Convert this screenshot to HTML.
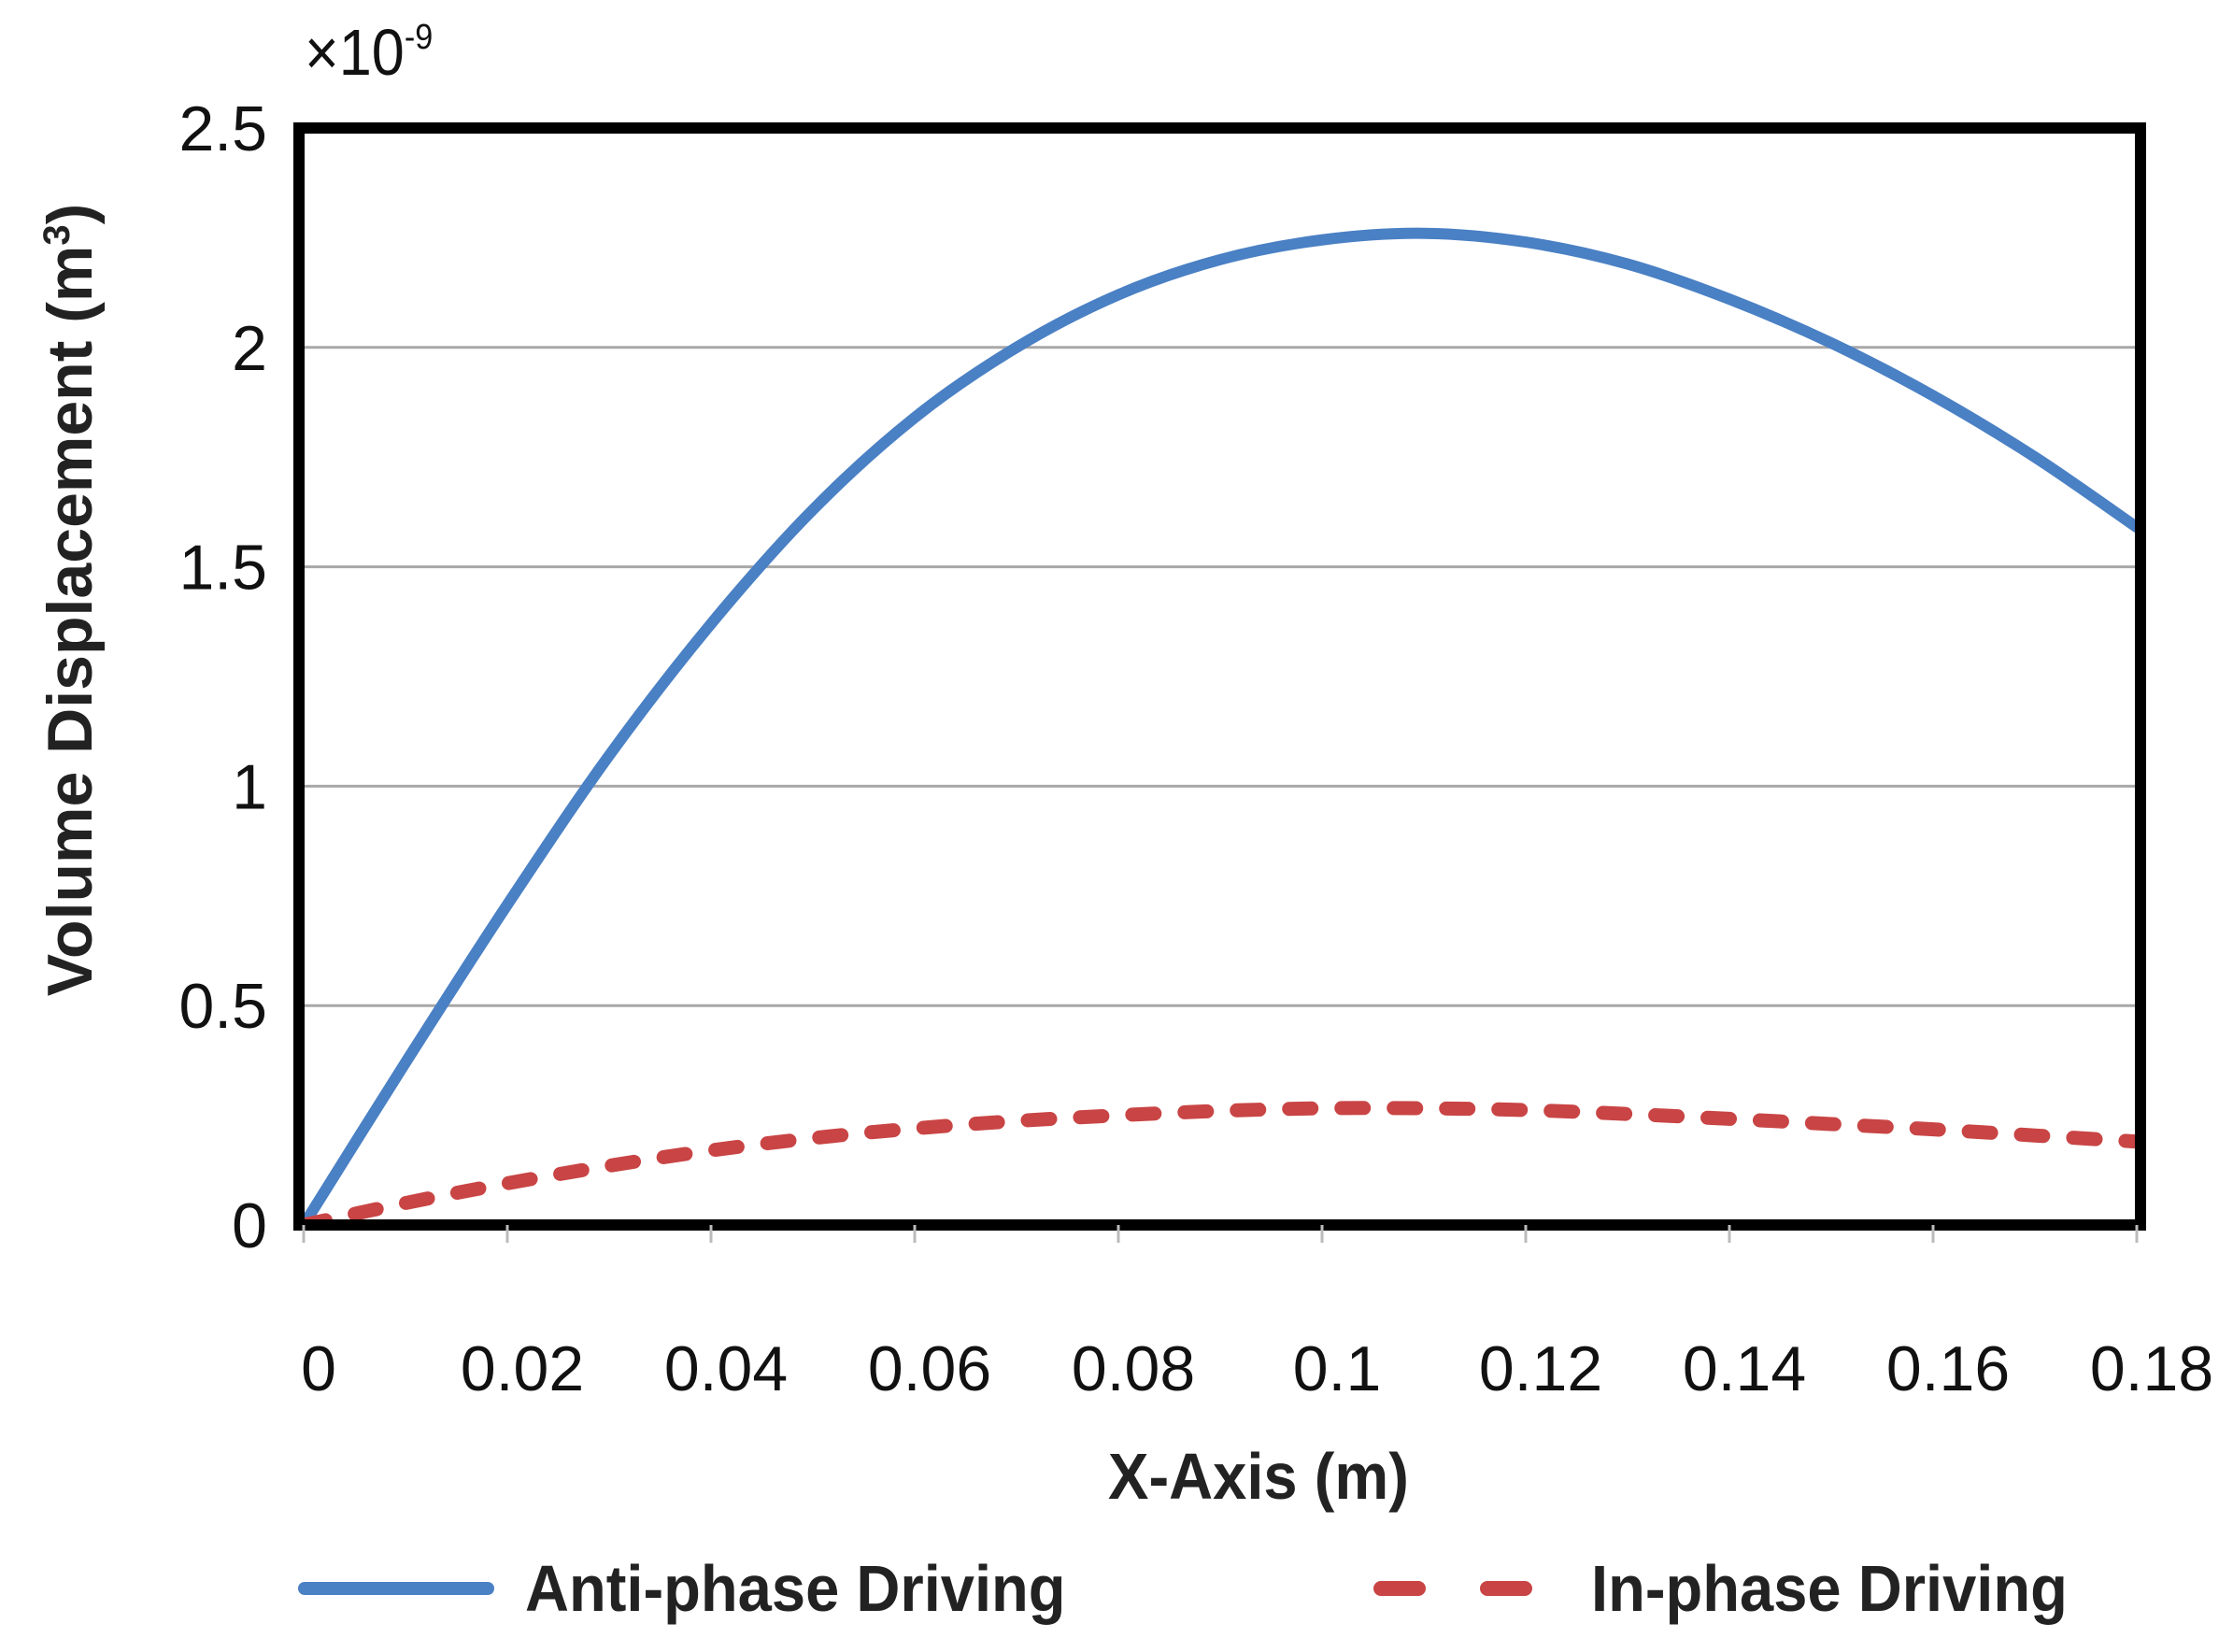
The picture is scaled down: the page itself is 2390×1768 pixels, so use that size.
<!DOCTYPE html>
<html><head><meta charset="utf-8"><style>
html,body{margin:0;padding:0;background:#fff;}
svg{display:block;font-family:"Liberation Sans",sans-serif;}
</style></head><body>
<svg id="chart" width="2390" height="1768" viewBox="0 0 2390 1768">
<defs><clipPath id="plotclip"><rect x="320" y="137" width="1971" height="1174"/></clipPath></defs>
<g id="grid"></g>
<g id="series" clip-path="url(#plotclip)"></g>
<rect x="320" y="137" width="1971" height="1174" fill="none" stroke="#000" stroke-width="12"/>
<g id="xticks"></g>
<g id="yticks"></g>
<text x="326" y="80" font-size="70" fill="#111" transform="translate(326 80) scale(0.9 1) translate(-326 -80)">×10<tspan dy="-28" font-size="38">-9</tspan></text>
<text x="1347" y="1604" font-size="70" font-weight="bold" fill="#222" text-anchor="middle" transform="translate(1347 1604) scale(0.93 1) translate(-1347 -1604)">X-Axis (m)</text>
<text transform="translate(98 642) rotate(-90)" font-size="68" font-weight="bold" fill="#222" text-anchor="middle">Volume Displacement (m<tspan dy="-24" font-size="40">3</tspan><tspan dy="24">)</tspan></text>
<g>
<line x1="326" y1="1700" x2="522" y2="1700" stroke="#4a80c4" stroke-width="14" stroke-linecap="round"/>
<text x="562" y="1724" font-size="70" font-weight="bold" fill="#222" transform="translate(562 1724) scale(0.93 1) translate(-562 -1724)">Anti-phase Driving</text>
<line x1="1478" y1="1700" x2="1652" y2="1700" stroke="#c94444" stroke-width="16" stroke-linecap="round" stroke-dasharray="40 74"/>
<text x="1703" y="1724" font-size="70" font-weight="bold" fill="#222" transform="translate(1703 1724) scale(0.93 1) translate(-1703 -1724)">In-phase Driving</text>
</g>
</svg>
<script>
const xValues=[0,0.01,0.02,0.03,0.04,0.05,0.06,0.07,0.08,0.09,0.10,0.11,0.12,0.13,0.14,0.15,0.16,0.17,0.18];
const antiPhase=[0,0.37,0.73,1.07,1.37,1.63,1.84,2.00,2.12,2.20,2.245,2.26,2.24,2.19,2.11,2.01,1.89,1.75,1.59];
const inPhase=[0,0.05,0.095,0.135,0.17,0.198,0.22,0.237,0.25,0.26,0.266,0.266,0.262,0.253,0.242,0.23,0.218,0.204,0.19];
const xTicks=[0,0.02,0.04,0.06,0.08,0.1,0.12,0.14,0.16,0.18];
const xTickLabels=["0","0.02","0.04","0.06","0.08","0.1","0.12","0.14","0.16","0.18"];
const yTicks=[0,0.5,1,1.5,2,2.5];
const yTickLabels=["0","0.5","1","1.5","2","2.5"];
const NS="http://www.w3.org/2000/svg";
const X0=325,X1=2287,Y0=1311,Y1=137;
function sx(v){return X0+(v-0)/(0.18)*(X1-X0);}
function sy(v){return Y0-(v/2.5)*(Y0-Y1);}
function mk(t,a,p){const e=document.createElementNS(NS,t);for(const k in a)e.setAttribute(k,a[k]);p.appendChild(e);return e;}
const grid=document.getElementById('grid'),yt=document.getElementById('yticks'),xt=document.getElementById('xticks'),ser=document.getElementById('series');
yTicks.forEach((v,i)=>{
  if(v>0&&v<2.5){const l=mk('line',{x1:320,x2:2291,y1:sy(v),y2:sy(v),stroke:'#a8a8a8','stroke-width':3},grid);
  
  }
  const t=mk('text',{x:286,y:sy(v)+24,'font-size':68,'text-anchor':'end',fill:'#111'},yt);
  t.textContent=yTickLabels[i];
  
  
});
xTicks.forEach((v,i)=>{
  const l=mk('line',{x1:sx(v),x2:sx(v),y1:1311,y2:1330,stroke:'#bbb','stroke-width':3},xt);
  
  
  const t=mk('text',{x:sx(v)+16,y:1488,'font-size':68,'text-anchor':'middle',fill:'#111'},xt);
  t.textContent=xTickLabels[i];
  
  
});
function smooth(xs,ys){
  const p=xs.map((x,i)=>[sx(x),sy(ys[i])]);
  let d='M'+p[0][0]+','+p[0][1];
  for(let i=0;i<p.length-1;i++){
    const a=p[Math.max(i-1,0)],b=p[i],c=p[i+1],e=p[Math.min(i+2,p.length-1)];
    const c1=[b[0]+(c[0]-a[0])/6,b[1]+(c[1]-a[1])/6],c2=[c[0]-(e[0]-b[0])/6,c[1]-(e[1]-b[1])/6];
    d+=' C'+c1+' '+c2+' '+c;
  }
  return d;
}
const pa=mk('path',{d:smooth(xValues,antiPhase),fill:'none',stroke:'#4a80c4','stroke-width':12,'stroke-linecap':'round'},ser);


const pb=mk('path',{d:smooth(xValues,inPhase),fill:'none',stroke:'#c94444','stroke-width':15,'stroke-linecap':'round','stroke-dasharray':'24 32'},ser);


</script>
</body></html>
